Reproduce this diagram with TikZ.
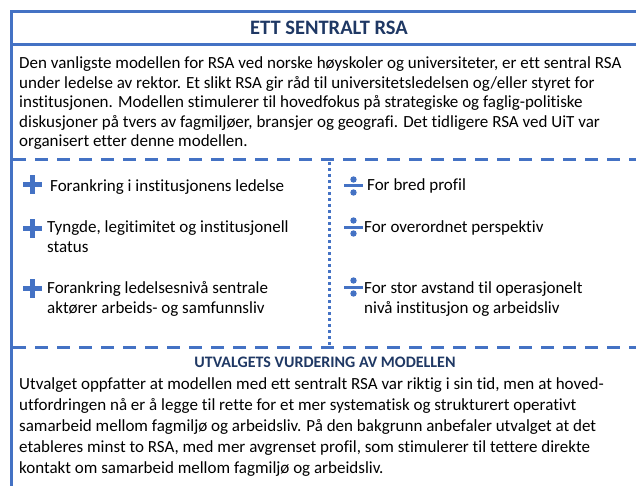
\documentclass[tikz,border=0pt]{standalone}
\usepackage{fontspec}
\setmainfont{Carlito}[Ligatures=NoCommon]
\definecolor{lineblue}{HTML}{4472C4}
\definecolor{titleblue}{HTML}{1F3864}
\tikzset{
  solidline/.style={draw=lineblue, line width=3pt},
  dashline/.style={draw=lineblue, line width=3pt, dash pattern=on 13pt off 9pt},
  dotline/.style={draw=lineblue, line width=3pt, dash pattern=on 3pt off 3pt},
  titletext/.style={font=\bfseries\fontsize{20.5}{24}\selectfont, text=titleblue, inner sep=0pt, anchor=base},
  subtitletext/.style={font=\bfseries\fontsize{16}{20}\selectfont, text=titleblue, inner sep=0pt, anchor=base},
  bodytext/.style={font=\fontsize{17}{19.6}\selectfont, inner sep=0pt, anchor=base west, align=left},
  itemtext/.style={font=\fontsize{17}{19.7}\selectfont, inner sep=0pt, anchor=base west, align=left},
  bottomtext/.style={font=\fontsize{17}{21}\selectfont, inner sep=0pt, anchor=base west, align=left},
}
\newcommand{\plussign}[2]{%
  \fill[lineblue] (#1-9.5,#2-2.5) rectangle (#1+9.5,#2+2.5);
  \fill[lineblue] (#1-2.5,#2-9.5) rectangle (#1+2.5,#2+9.5);
}
\newcommand{\divsign}[2]{%
  \fill[lineblue] (#1-9.5,#2-1.5) rectangle (#1+9.5,#2+1.5);
  \fill[lineblue] (#1,#2-6.5) circle (3.2);
  \fill[lineblue] (#1,#2+6.5) circle (3.2);
}
\begin{document}
\begin{tikzpicture}[x=1pt,y=-1pt]
\useasboundingbox (0,0) rectangle (636,486);
\fill[white] (0,0) rectangle (636,486);
% frame lines
\coordinate (tl) at (11.5,11.5);
\coordinate (tr) at (636,11.5);
\coordinate (bl) at (11.5,486);
\draw[solidline] (tr) -- (tl) -- (bl);
\coordinate (s2l) at (11.5,45);
\coordinate (s2r) at (636,45);
\draw[solidline] (s2l) -- (s2r);
\coordinate (d1l) at (13,160);
\coordinate (d1r) at (636,160);
\draw[dashline] (d1l) -- (d1r);
\coordinate (d2l) at (13,347);
\coordinate (d2r) at (636,347);
\draw[dashline] (d2l) -- (d2r);
\coordinate (vt) at (329,162);
\coordinate (vb) at (329,345);
\draw[dotline] (vt) -- (vb);

\node[titletext] (title) at (329,35) {ETT SENTRALT RSA};

\node[bodytext] (intro) at (19,147) {Den vanligste modellen for RSA ved norske høyskoler og universiteter, er ett sentral RSA\\
under ledelse av rektor. Et slikt RSA gir råd til universitetsledelsen og/eller styret for\\
institusjonen. Modellen stimulerer til hovedfokus på strategiske og faglig-politiske\\
diskusjoner på tvers av fagmiljøer, bransjer og geografi. Det tidligere RSA ved UiT var\\
organisert etter denne modellen.};

% plus items
\plussign{32.5}{185}
\node[itemtext] (p1) at (50,192) {Forankring i institusjonens ledelse};
\plussign{32.5}{228}
\node[itemtext] (p2) at (47,252.5) {Tyngde, legitimitet og institusjonell\\status};
\plussign{32.5}{288}
\node[itemtext] (p3) at (47,313) {Forankring ledelsesnivå sentrale\\aktører arbeids- og samfunnsliv};

% minus items
\divsign{353.5}{186}
\node[itemtext] (m1) at (367,191) {For bred profil};
\divsign{353.5}{227}
\node[itemtext] (m2) at (364,232) {For overordnet perspektiv};
\divsign{353.5}{287}
\node[itemtext] (m3) at (364,313) {For stor avstand til operasjonelt\\nivå institusjon og arbeidsliv};

\node[subtitletext] (sub) at (325,367) {UTVALGETS VURDERING AV MODELLEN};
\node[bottomtext] (eval) at (19,473) {Utvalget oppfatter at modellen med ett sentralt RSA var riktig i sin tid, men at hoved-\\
utfordringen nå er å legge til rette for et mer systematisk og strukturert operativt\\
samarbeid mellom fagmiljø og arbeidsliv. På den bakgrunn anbefaler utvalget at det\\
etableres minst to RSA, med mer avgrenset profil, som stimulerer til tettere direkte\\
kontakt om samarbeid mellom fagmiljø og arbeidsliv.};
\end{tikzpicture}
\end{document}
